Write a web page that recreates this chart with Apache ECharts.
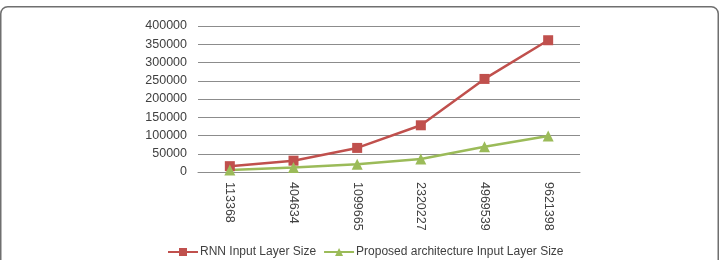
<!DOCTYPE html>
<html>
<head>
<meta charset="utf-8">
<script src="https://cdn.jsdelivr.net/npm/echarts@6/dist/echarts.min.js"></script>
<style>
html,body{margin:0;padding:0;background:#fff;}
#chart{width:723px;height:260px;}
</style>
</head>
<body>
<div id="chart"></div>
<script>
const categories = ['113368', '404634', '1099665', '2320227', '4969539', '9621398'];
const rnnValues = [16000, 31000, 66000, 128000, 255000, 361000];
const proposedValues = [5500, 12000, 21000, 35500, 69000, 98500];
const seriesNames = ['RNN Input Layer Size', 'Proposed architecture Input Layer Size'];

const chart = echarts.init(document.getElementById('chart'));
const font = '"Liberation Sans", Arial, sans-serif';
chart.setOption({
  animation: false,
  backgroundColor: '#fff',
  graphic: [{
    type: 'rect',
    shape: { x: 0.75, y: 6.75, width: 717.5, height: 320, r: 7 },
    style: { fill: 'none', stroke: '#6f6f6f', lineWidth: 1.5 },
    silent: true
  }],
  grid: { left: 198, width: 382, top: 26, height: 146 },
  legend: {
    left: 162, top: 241,
    itemWidth: 30, itemHeight: 10, itemGap: 7,
    textStyle: { fontFamily: font, fontSize: 12, color: '#404040', padding: [0, 0, 0, -3] },
    data: seriesNames
  },
  xAxis: {
    type: 'category',
    data: categories,
    boundaryGap: true,
    axisLine: { lineStyle: { color: '#8c8c8c', width: 1 } },
    axisTick: { show: false },
    axisLabel: { rotate: -90, margin: 10, fontFamily: font, fontSize: 12.5, color: '#404040', interval: 0 }
  },
  yAxis: {
    type: 'value', min: 0, max: 400000, interval: 50000,
    axisLine: { show: false },
    axisTick: { show: false },
    splitLine: { lineStyle: { color: '#8c8c8c', width: 1 } },
    axisLabel: { margin: 11, fontFamily: font, fontSize: 12.5, color: '#404040', formatter: function (v) { return String(v); } }
  },
  series: [
    {
      name: seriesNames[0], type: 'line', data: rnnValues,
      symbol: 'rect', symbolSize: 10,
      lineStyle: { color: '#c0504d', width: 2.5 },
      itemStyle: { color: '#c0504d' }
    },
    {
      name: seriesNames[1], type: 'line', data: proposedValues,
      symbol: 'triangle', symbolSize: 11,
      lineStyle: { color: '#9bbb59', width: 2.5 },
      itemStyle: { color: '#9bbb59' }
    }
  ]
});
</script>
</body>
</html>
